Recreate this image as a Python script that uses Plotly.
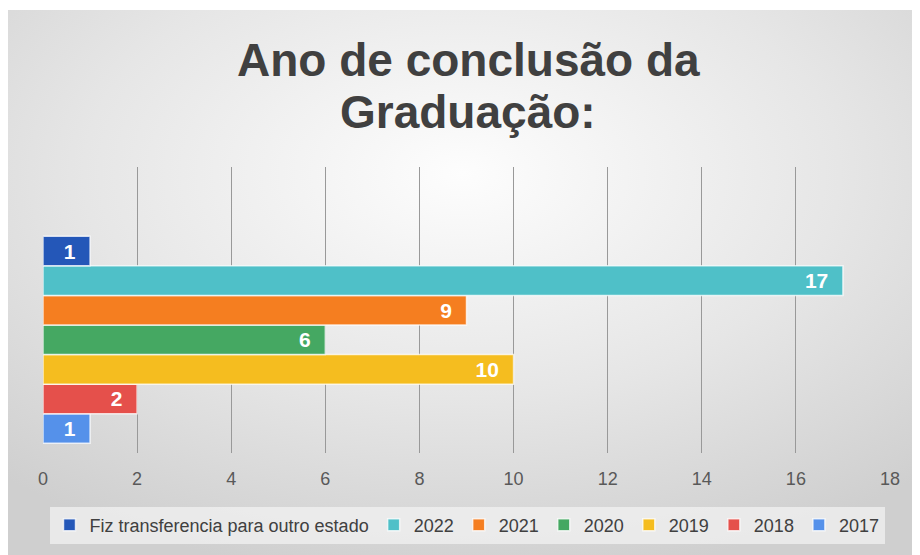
import plotly.graph_objects as go

categories = ["Fiz transferencia para outro estado", "2022", "2021", "2020", "2019", "2018", "2017"]
values = [1, 17, 9, 6, 10, 2, 1]
colors = ["#2457b8", "#4fc0c8", "#f57e20", "#45a862", "#f5bd1f", "#e5504b", "#5591ea"]
x_ticks = [0, 2, 4, 6, 8, 10, 12, 14, 16, 18]
title_lines = ["Ano de conclusão da", "Graduação:"]

# page body has an 8px margin; lay out in figure coordinates = screen - 8
W, H = 912, 547
L, R, T, B = 35, 30, 159, 102
pw, ph = W - L - R, H - T - B

def py(pix):  # figure pixel y -> paper y
    return (H - B - pix) / ph

def px(pix):  # figure pixel x -> paper x
    return (pix - L) / pw

fig = go.Figure()
# plotly draws grouped horizontal bars bottom-up: add in reverse order
for name, v, c in reversed(list(zip(categories, values, colors))):
    fig.add_trace(go.Bar(
        y=[""], x=[v], name=name, orientation="h",
        marker=dict(color=c, line=dict(color="rgba(255,255,255,0.75)", width=1.5)),
        text=[str(v) + "\u00a0\u00a0"], textposition="inside", insidetextanchor="end",
        textfont=dict(family="Liberation Sans, Arial", size=21, color="white", weight="bold"),
        cliponaxis=False,
    ))

svg = ("data:image/svg+xml;utf8,"
       "<svg xmlns='http://www.w3.org/2000/svg' width='100' height='100' preserveAspectRatio='none' viewBox='0 0 100 100'>"
       "<defs><radialGradient id='g' cx='50%' cy='30%' r='75%'>"
       "<stop offset='0' stop-color='%23fdfdfd'/><stop offset='0.55' stop-color='%23e6e6e6'/>"
       "<stop offset='1' stop-color='%23cfcfcf'/></radialGradient></defs>"
       "<rect width='100' height='100' fill='url(%23g)'/></svg>")

annotations = []
for txt, yc in zip(title_lines, [52, 104]):
    annotations.append(dict(text="<b>" + txt + "</b>", xref="paper", yref="paper",
                            x=px(460), y=py(yc), xanchor="center", yanchor="middle",
                            showarrow=False,
                            font=dict(family="Liberation Sans, Arial", size=46, color="#404040")))

fig.update_layout(
    width=W, height=H,
    margin=dict(l=L, r=R, t=T, b=B, autoexpand=False),
    paper_bgcolor="white",
    plot_bgcolor="rgba(0,0,0,0)",
    barmode="group", bargap=0.25, bargroupgap=0,
    annotations=annotations,
    xaxis=dict(range=[0, 18], tickvals=x_ticks, showgrid=True, gridcolor="#999999", gridwidth=1.4,
               zeroline=False, showline=False,
               tickfont=dict(family="Liberation Sans, Arial", size=18, color="#595959"),
               ticks="", ticklabelstandoff=13),
    yaxis=dict(range=[-0.41, 0.626], showticklabels=False, showgrid=False, zeroline=False),
    showlegend=True,
    legend=dict(orientation="h", traceorder="reversed", x=px(459), xanchor="center",
                y=py(517), yanchor="middle",
                bgcolor="rgba(242,242,242,0.75)",
                font=dict(family="Liberation Sans, Arial", size=18, color="#404040"),
                itemwidth=30),
    images=[dict(source=svg, xref="paper", yref="paper", x=px(-4), y=py(2),
                 sizex=(W + 4) / pw, sizey=(H - 2) / ph, xanchor="left", yanchor="top",
                 sizing="stretch", layer="below")],
    font=dict(family="Liberation Sans, Arial"),
)

fig.write_html("out.html")
